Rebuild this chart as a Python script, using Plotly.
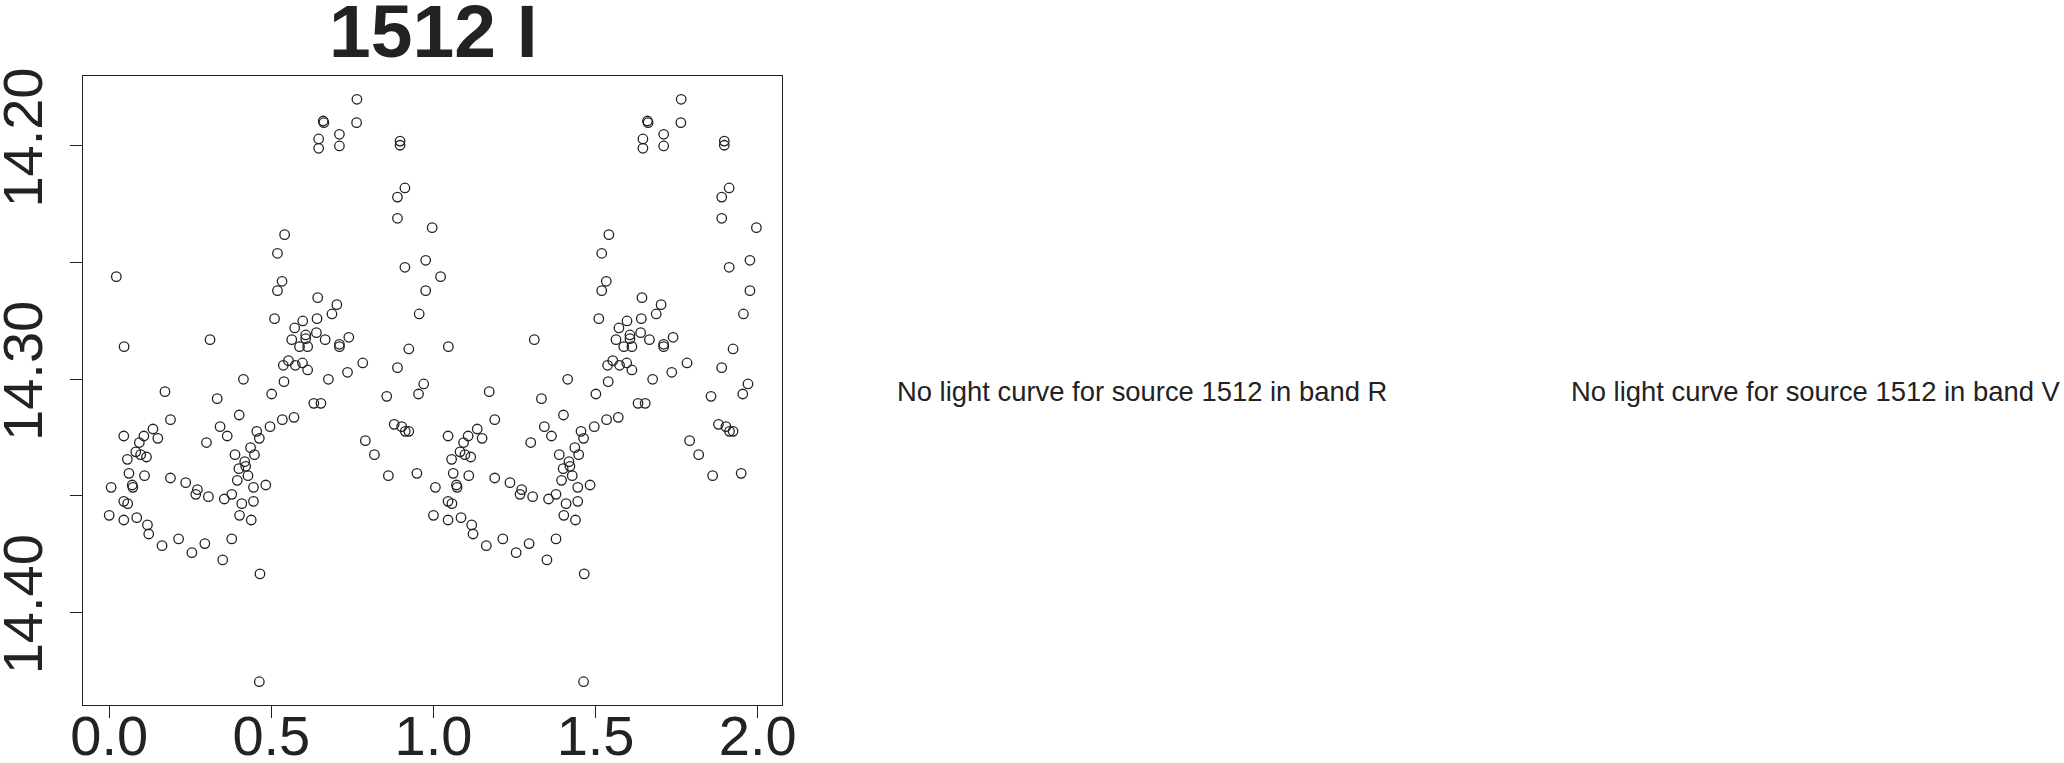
import plotly.graph_objects as go

# Phase-folded light curve of source 1512, band I
phase = [
    0.764, 0.660, 0.662, 0.763, 0.646, 0.646, 0.710, 0.710, 0.897, 0.897,
    0.912, 0.889, 0.889, 0.996, 0.541, 0.519, 0.976, 0.912, 0.022, 0.533,
    0.519, 0.976, 0.643, 0.702, 0.687, 0.956, 0.510, 0.641, 0.597, 0.572,
    0.606, 0.606, 0.563, 0.639, 0.666, 0.739, 0.587, 0.612, 0.710, 0.710,
    0.046, 0.311, 0.924, 0.782, 0.537, 0.553, 0.574, 0.596, 0.612, 0.889,
    0.735, 0.414, 0.539, 0.676, 0.970,
    0.172, 0.501, 0.333, 0.631, 0.653, 0.856, 0.954, 0.189, 0.401, 0.534,
    0.570, 0.496, 0.342, 0.135, 0.045, 0.107, 0.150, 0.364, 0.455, 0.463,
    0.879, 0.902, 0.913, 0.924, 0.790, 0.818, 0.093, 0.300, 0.436, 0.082,
    0.097, 0.115, 0.056, 0.388, 0.448, 0.418, 0.421, 0.400, 0.061, 0.109,
    0.189, 0.428, 0.395, 0.861, 0.949, 0.006, 0.071, 0.073, 0.236, 0.272,
    0.267, 0.306, 0.355, 0.378, 0.445, 0.483, 0.045, 0.057, 0.409, 0.445,
    0.000, 0.045, 0.085, 0.118, 0.122, 0.402, 0.438, 0.163, 0.214, 0.255,
    0.295, 0.378, 0.350, 0.465, 0.463,
]
mag = [
    14.1800, 14.1893, 14.1900, 14.1900, 14.1970, 14.2010, 14.1950, 14.2000, 14.1979, 14.1997,
    14.2180, 14.2219, 14.2310, 14.2350, 14.2380, 14.2460, 14.2490, 14.2520, 14.2560, 14.2580,
    14.2620, 14.2620, 14.2650, 14.2680, 14.2720, 14.2720, 14.2740, 14.2740, 14.2750, 14.2780,
    14.2810, 14.2826, 14.2830, 14.2800, 14.2830, 14.2820, 14.2860, 14.2860, 14.2850, 14.2860,
    14.2860, 14.2830, 14.2870, 14.2930, 14.2940, 14.2920, 14.2940, 14.2930, 14.2960, 14.2950,
    14.2970, 14.3000, 14.3010, 14.3000, 14.3020,
    14.3053, 14.3063, 14.3083, 14.3103, 14.3103, 14.3073, 14.3063, 14.3173, 14.3153, 14.3173,
    14.3163, 14.3203, 14.3203, 14.3213, 14.3243, 14.3243, 14.3253, 14.3243, 14.3223, 14.3253,
    14.3193, 14.3203, 14.3223, 14.3223, 14.3263, 14.3323, 14.3271, 14.3271, 14.3293, 14.3311,
    14.3323, 14.3333, 14.3343, 14.3323, 14.3323, 14.3353, 14.3373, 14.3383, 14.3403, 14.3413,
    14.3423, 14.3413, 14.3433, 14.3413, 14.3403, 14.3463, 14.3453, 14.3463, 14.3443, 14.3473,
    14.3493, 14.3503, 14.3513, 14.3493, 14.3463, 14.3453, 14.3523, 14.3533, 14.3533, 14.3523,
    14.3583, 14.3603, 14.3593, 14.3624, 14.3663, 14.3583, 14.3603, 14.3713, 14.3684, 14.3743,
    14.3704, 14.3684, 14.3774, 14.3834, 14.4296,
]

x_tick_vals = [0.0, 0.5, 1.0, 1.5, 2.0]
x_tick_text = ["0.0", "0.5", "1.0", "1.5", "2.0"]
y_tick_vals = [14.20, 14.25, 14.30, 14.35, 14.40]
y_tick_text = ["14.20", "", "14.30", "", "14.40"]

title_text = "1512 I"
missing_texts = ["No light curve for source 1512 in band R",
                 "No light curve for source 1512 in band V"]

# two cycles of phase
xs = phase + [p + 1 for p in phase]
ys = mag + mag

def r_range(v):
    lo, hi = min(v), max(v)
    d = hi - lo
    return [lo - 0.04 * d, hi + 0.04 * d]

xr = r_range(xs)
yr = r_range(ys)

W, H = 2064, 763
FONT = "Liberation Sans, Arial, Helvetica, sans-serif"
INK = "#222222"

fig = go.Figure()
fig.add_trace(go.Scatter(
    x=xs, y=ys, mode="markers",
    marker=dict(symbol="circle-open", size=9.5, color=INK, line=dict(width=1.3, color=INK)),
    showlegend=False, hoverinfo="x+y",
))

x0, x1 = 83.3, 782.3
ytop, ybot = 76.0, 705.0

fig.update_layout(
    width=W, height=H,
    margin=dict(l=0, r=0, t=0, b=0, pad=0, autoexpand=False),
    paper_bgcolor="white", plot_bgcolor="white",
    font=dict(family=FONT, color=INK),
    xaxis=dict(
        domain=[x0 / W, x1 / W], range=xr, automargin=False,
        tickvals=x_tick_vals, ticktext=x_tick_text,
        ticks="outside", ticklen=12, tickwidth=1, tickcolor=INK,
        tickfont=dict(size=56, family=FONT, color=INK),
        showgrid=False, zeroline=False,
        showline=True, linecolor=INK, linewidth=1.3, mirror=True,
        ticklabelstandoff=-30,
    ),
    yaxis=dict(
        domain=[(H - ybot) / H, (H - ytop) / H], range=[yr[1], yr[0]], automargin=False,
        tickvals=y_tick_vals, ticktext=y_tick_text, tickangle=-90,
        ticks="outside", ticklen=12, tickwidth=1, tickcolor=INK,
        tickfont=dict(size=56, family=FONT, color=INK),
        showgrid=False, zeroline=False,
        showline=True, linecolor=INK, linewidth=1.3, mirror=True,
        ticklabelstandoff=6,
    ),
)

annotations = [
    dict(text="<b>" + title_text + "</b>", xref="paper", yref="paper",
         x=433.5 / W, y=(H - 31) / H, xanchor="center", yanchor="middle",
         showarrow=False, font=dict(size=75, family=FONT, color=INK)),
]
centers = [1142, 1815]
for cx, t in zip(centers, missing_texts):
    annotations.append(dict(text=t, xref="paper", yref="paper",
                            x=cx / W, y=(H - 391) / H, xanchor="center", yanchor="middle",
                            showarrow=False, font=dict(size=27.4, family=FONT, color=INK)))
fig.update_layout(annotations=annotations)

fig.write_html(
    "out.html",
    config={"displayModeBar": False},
    post_script="document.body.style.margin='0';document.body.style.overflow='hidden';",
)
